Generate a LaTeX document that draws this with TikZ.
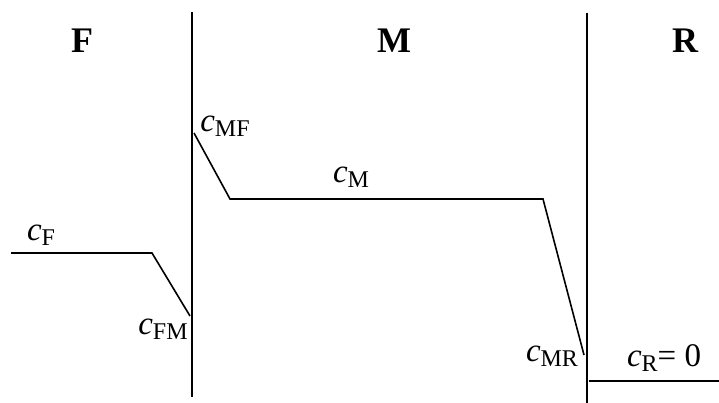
\documentclass[tikz,border=0pt]{standalone}
\usepackage{fontspec}
\setmainfont{Liberation Serif}
\usetikzlibrary{positioning}
\newcommand{\conc}[1]{\textit{c}\raisebox{-0.35ex}{\fontsize{24}{27}\selectfont #1}}

\begin{document}
\begin{tikzpicture}[x=1pt, y=-1pt,
		membrane/.style={line width=2.6pt},
		profile/.style={line width=1.6pt},
		phase/.style={font=\fontsize{36}{42}\selectfont\bfseries, inner sep=0pt},
		lbl/.style={font=\fontsize{33}{39}\selectfont, inner sep=0pt}]
	\useasboundingbox (0,0) rectangle (719,403);
	% membranes
	\coordinate (mL top) at (192,12);
	\coordinate (mL bot) at (192,397);
	\coordinate (mR top) at (587,13);
	\coordinate (mR bot) at (587,403);
	\draw [membrane] (mL top) -- (mL bot);
	\draw [membrane] (mR top) -- (mR bot);
	% phases
	\node [phase] (F) at (82,41) {F};
	\node [phase] (M) at (394,41) {M};
	\node [phase] (R) at (685,41) {R};
	% concentration profile
	\coordinate (cF start) at (11,253);
	\coordinate (cF knee) at (152,253);
	\coordinate (cFM) at (190,316);
	\coordinate (cMF) at (194,133);
	\coordinate (cM start) at (230,199);
	\coordinate (cM end) at (543,199);
	\coordinate (cMR) at (584,355);
	\coordinate (cR start) at (589,381);
	\coordinate (cR end) at (719,381);
	\draw [profile] (cF start) -- (cF knee) -- (cFM);
	\draw [profile] (cMF) -- (cM start) -- (cM end) -- (cMR);
	\draw [profile] (cR start) -- (cR end);
	% labels
	\node [lbl] (lF) at (41,235) {\conc{F}};
	\node [lbl] (lFM) at (163,329) {\conc{FM}};
	\node [lbl] (lMF) at (225,126) {\conc{MF}};
	\node [lbl] (lM) at (351,177) {\conc{M}};
	\node [lbl] (lMR) at (552,356) {\conc{MR}};
	\node [lbl] (lR) at (664,358) {\conc{R}= 0};
\end{tikzpicture}
\end{document}
